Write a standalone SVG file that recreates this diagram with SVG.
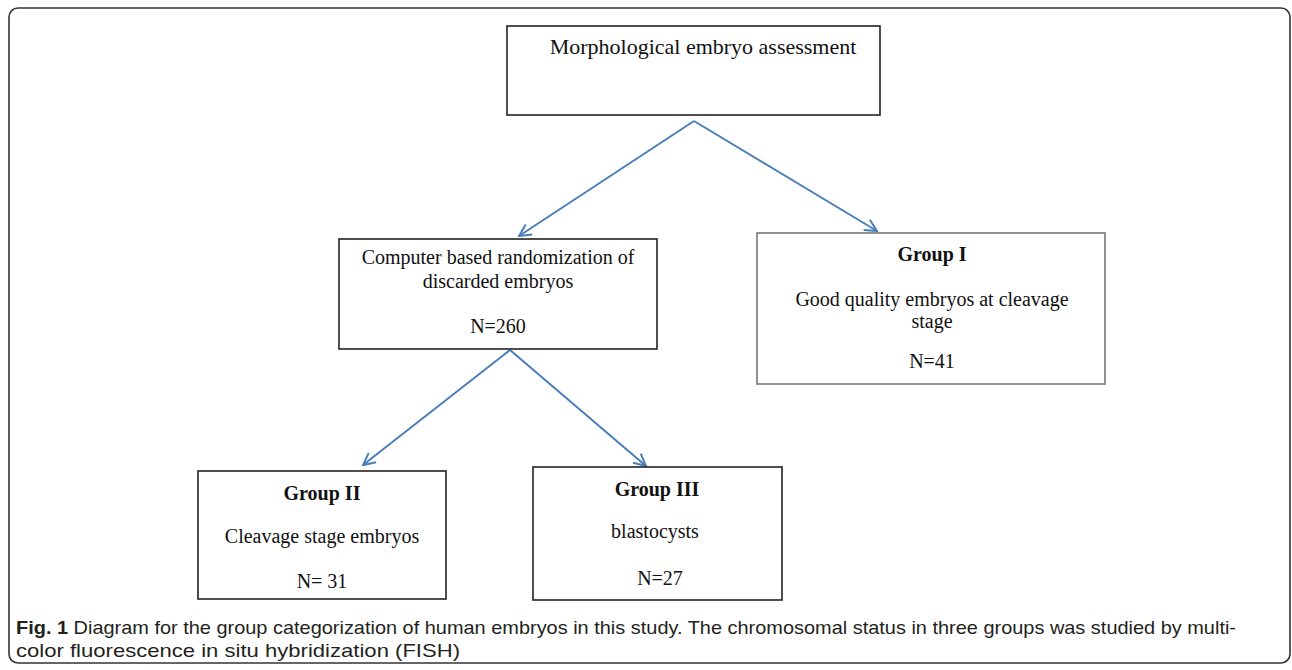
<svg xmlns="http://www.w3.org/2000/svg" width="1292" height="670" viewBox="0 0 1292 670">
<defs>
<style>
.box{fill:#fff;stroke:#222;stroke-width:1.6}
.box2{fill:#fff;stroke:#777;stroke-width:1.6}
.t{font-family:"Liberation Serif","Times New Roman",serif;font-size:20px;fill:#111;text-anchor:middle}
.b{font-weight:bold}
.conn{stroke:#4a7ebb;stroke-width:2;fill:none;marker-end:url(#arr)}
.cap{font-family:"Liberation Sans",Arial,sans-serif;font-size:19px;fill:#231f20}
</style>
<marker id="arr" viewBox="0 0 14 14" refX="13" refY="7" markerWidth="14" markerHeight="14" markerUnits="userSpaceOnUse" orient="auto">
<path d="M1,1 L13,7 L1,13" fill="none" stroke="#4a7ebb" stroke-width="2"/>
</marker>
</defs>
<rect x="9" y="8" width="1281" height="655" rx="9" fill="none" stroke="#333" stroke-width="1.6"/>
<g id="connectors">
<line class="conn" x1="694" y1="121" x2="519" y2="236"/>
<line class="conn" x1="694" y1="121" x2="877" y2="231"/>
<line class="conn" x1="510" y1="350" x2="363" y2="465"/>
<line class="conn" x1="510" y1="350" x2="646" y2="466"/>
</g>
<g id="node-top">
<rect class="box" x="507" y="26" width="373" height="89"/>
<text class="t" x="703" y="54" style="font-size:22px">Morphological embryo assessment</text>
</g>
<g id="node-random">
<rect class="box" x="339" y="239" width="318" height="110"/>
<text class="t" x="498" y="264">Computer based randomization of</text>
<text class="t" x="498" y="288">discarded embryos</text>
<text class="t" x="498" y="333">N=260</text>
</g>
<g id="node-group1">
<rect class="box2" x="757" y="233" width="348" height="151"/>
<text class="t b" x="932" y="261">Group I</text>
<text class="t" x="932" y="306">Good quality embryos at cleavage</text>
<text class="t" x="932" y="328">stage</text>
<text class="t" x="932" y="368">N=41</text>
</g>
<g id="node-group2">
<rect class="box" x="198" y="471" width="248" height="128"/>
<text class="t b" x="322" y="500">Group II</text>
<text class="t" x="322" y="543">Cleavage stage embryos</text>
<text class="t" x="322" y="588">N= 31</text>
</g>
<g id="node-group3">
<rect class="box" x="533" y="467" width="249" height="133"/>
<text class="t b" x="657" y="496">Group III</text>
<text class="t" x="655" y="538">blastocysts</text>
<text class="t" x="660" y="585">N=27</text>
</g>
<g id="caption">
<text class="cap" x="16" y="634" textLength="1220" lengthAdjust="spacingAndGlyphs"><tspan font-weight="bold">Fig. 1</tspan> Diagram for the group categorization of human embryos in this study. The chromosomal status in three groups was studied by multi-</text>
<text class="cap" x="16" y="657" textLength="444" lengthAdjust="spacingAndGlyphs">color fluorescence in situ hybridization (FISH)</text>
</g>
</svg>
